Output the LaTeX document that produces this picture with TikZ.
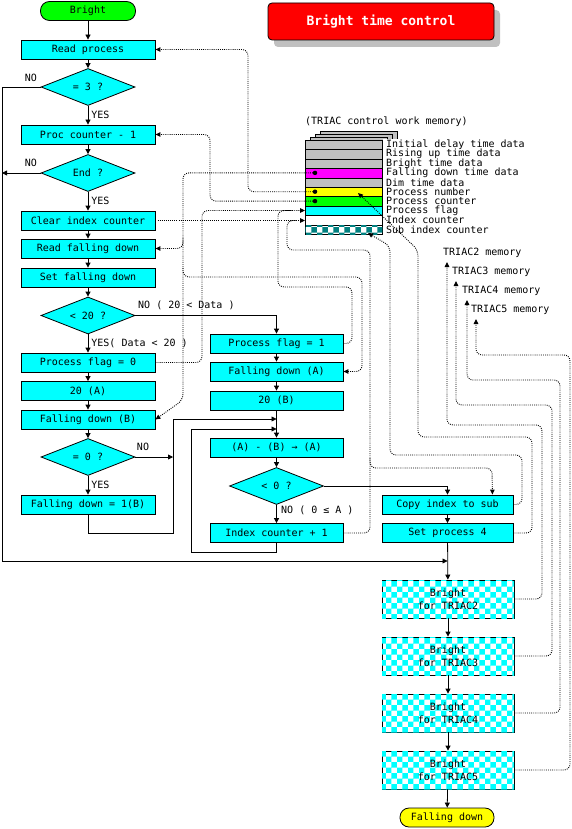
\documentclass[tikz,border=0pt]{standalone}
\usepackage{fontspec}
\setmonofont{DejaVu Sans Mono}
\usetikzlibrary{arrows.meta,shapes.geometric,patterns}
\definecolor{cy}{RGB}{0,255,255}
\definecolor{gr}{RGB}{0,255,0}
\definecolor{yl}{RGB}{255,255,0}
\definecolor{mg}{RGB}{255,0,255}
\definecolor{sg}{RGB}{192,192,192}
\definecolor{tl}{RGB}{0,128,128}
\definecolor{rd}{RGB}{255,0,0}
\begin{document}
\begin{tikzpicture}[x=1pt,y=-1pt,
  font=\ttfamily\fontsize{10}{12}\selectfont,
  box/.style={draw, fill=cy, line width=0.8pt, minimum width=134pt, minimum height=19pt, inner sep=0pt},
  dia/.style={diamond, draw, fill=cy, line width=0.8pt, aspect=2.5, minimum width=94pt, minimum height=37pt, inner sep=0pt},
  term/.style={draw, line width=0.8pt, rounded corners=9pt, minimum width=95pt, minimum height=19pt, inner sep=0pt},
  tribox/.style={draw, line width=0.8pt, fill=white, postaction={pattern=checkerboard, pattern color=cy}, minimum width=132pt, minimum height=38pt, inner sep=0pt, align=center, font=\ttfamily\fontsize{10}{13}\selectfont},
  row/.style={draw, line width=0.8pt, minimum width=77pt, minimum height=9.4pt, inner sep=0pt, anchor=north west},
  lbl/.style={anchor=west, inner sep=0pt},
  memlbl/.style={anchor=west, inner sep=0pt, font=\ttfamily\fontsize{10}{10}\selectfont},
  arr/.style={line width=0.8pt, -{Triangle[length=5pt,width=5pt]}},
  ln/.style={line width=0.8pt},
  mem/.style={line width=0.9pt, dash pattern=on 0.9pt off 1.2pt, rounded corners=6pt},
  marr/.style={mem, -{Triangle[length=5pt,width=4.5pt]}},
  dot/.style={circle, fill=black, inner sep=0pt, minimum size=4.5pt}
]
\useasboundingbox (0,0) rectangle (572,829);

% title
\fill[sg, rounded corners=4pt] (274,10) rectangle (500,47);
\node[draw, line width=0.8pt, fill=rd, rounded corners=4pt, minimum width=226pt, minimum height=37pt, text=white, font=\ttfamily\bfseries\fontsize{13}{15}\selectfont] (title) at (381,21.5) {Bright time control};

% left column
\node[term, fill=gr] (start) at (88,11) {Bright};
\node[box] (rp) at (88,49.5) {Read process};
\node[dia] (d3) at (88,87) {= 3 ?};
\node[box] (pc) at (88,134.5) {Proc counter - 1};
\node[dia] (dend) at (88,173) {End ?};
\node[box] (cic) at (88,220.5) {Clear index counter};
\node[box] (rfd) at (88,248.5) {Read falling down};
\node[box] (sfd) at (88,277.5) {Set falling down};
\node[dia] (d20) at (88,315.5) {< 20 ?};
\node[box] (pf0) at (88,362.5) {Process flag = 0};
\node[box] (a20) at (88,391) {20 (A)};
\node[box] (fdb) at (88,419.5) {Falling down (B)};
\node[dia] (d0) at (88,457) {= 0 ?};
\node[box] (fd1) at (88,504.5) {Falling down = 1(B)};

% middle column
\node[box, minimum width=133pt] (pf1) at (276.5,343.5) {Process flag = 1};
\node[box, minimum width=133pt] (fda) at (276.5,371.5) {Falling down (A)};
\node[box, minimum width=133pt] (b20) at (276.5,400.5) {20 (B)};
\node[box, minimum width=133pt] (ab) at (276.5,447.5) {(A) - (B) → (A)};
\node[dia] (dl0) at (276.5,486) {< 0 ?};
\node[box, minimum width=133pt] (ic1) at (276.5,533) {Index counter + 1};

% right column
\node[box, minimum width=131pt] (cis) at (447.5,504.5) {Copy index to sub};
\node[box, minimum width=131pt] (sp4) at (447.5,533) {Set process 4};
\node[tribox] (t2) at (448,599) {Bright\\for TRIAC2};
\node[tribox] (t3) at (448,656) {Bright\\for TRIAC3};
\node[tribox] (t4) at (448,713) {Bright\\for TRIAC4};
\node[tribox] (t5) at (448,770) {Bright\\for TRIAC5};
\node[term, fill=yl, minimum width=94pt] (fin) at (447,817.5) {Falling down};

% memory block
\node[anchor=west, inner sep=0pt] (memtitle) at (305,122) {(TRIAC control work memory)};
\foreach \k in {3,2,1} {
  \draw[ln, fill=sg] (305+5*\k,140-2.7*\k) rectangle (382+5*\k,234-2.7*\k);
}
\fill[white] (383,139) rectangle (530,237);
\node[row, fill=sg] (m1) at (305,140) {};
\node[row, fill=sg] (m2) at (305,149.4) {};
\node[row, fill=sg] (m3) at (305,158.8) {};
\node[row, fill=mg] (m4) at (305,168.2) {};
\node[row, fill=sg] (m5) at (305,177.6) {};
\node[row, fill=yl] (m6) at (305,187) {};
\node[row, fill=gr] (m7) at (305,196.4) {};
\node[row, fill=cy] (m8) at (305,205.8) {};
\node[row, fill=white] (m9) at (305,215.2) {};
\node[row, fill=white, postaction={pattern=checkerboard, pattern color=tl}] (m10) at (305,224.6) {};
\node[memlbl] (l1) at (386,144.7) {Initial delay time data};
\node[memlbl] (l2) at (386,154.1) {Rising up time data};
\node[memlbl] (l3) at (386,163.5) {Bright time data};
\node[memlbl] (l4) at (386,172.9) {Falling down time data};
\node[memlbl] (l5) at (386,182.3) {Dim time data};
\node[memlbl] (l6) at (386,191.7) {Process number};
\node[memlbl] (l7) at (386,201.1) {Process counter};
\node[memlbl] (l8) at (386,210.5) {Process flag};
\node[memlbl] (l9) at (386,219.9) {Index counter};
\node[memlbl] (l10) at (386,229.3) {Sub index counter};

% TRIAC memory labels
\node[lbl] (tm2) at (443,253) {TRIAC2 memory};
\node[lbl] (tm3) at (452,272) {TRIAC3 memory};
\node[lbl] (tm4) at (462,291) {TRIAC4 memory};
\node[lbl] (tm5) at (471,310) {TRIAC5 memory};
\coordinate (tm2in) at (447,262);
\coordinate (tm3in) at (456,281);
\coordinate (tm4in) at (467,300);
\coordinate (tm5in) at (476,319);

% memory access points
\coordinate (mM) at (315,172.9);
\coordinate (mY) at (315,191.7);
\coordinate (mG) at (315,201.1);
\coordinate (mC) at (305,210.5);
\coordinate (mW) at (305,220.5);
\coordinate (mP) at (358,193);
\coordinate (mS) at (368,233);

% solid flow
\draw[arr] (start) -- (rp);
\draw[arr] (rp) -- (d3);
\draw[arr] (d3) -- node[right, inner sep=3pt] {YES} (pc);
\draw[arr] (pc) -- (dend);
\draw[arr] (dend) -- node[right, inner sep=3pt] {YES} (cic);
\draw[arr] (cic) -- (rfd);
\draw[arr] (rfd) -- (sfd);
\draw[arr] (sfd) -- (d20);
\draw[arr] (d20) -- node[right, inner sep=3pt] {YES( Data < 20 )} (pf0);
\draw[arr] (pf0) -- (a20);
\draw[arr] (a20) -- (fdb);
\draw[arr] (fdb) -- (d0);
\draw[arr] (d0) -- node[right, inner sep=3pt] {YES} (fd1);

\coordinate (j561) at (447.5,561);
\coordinate (j419) at (276.5,419);
\coordinate (j429) at (276.5,429);
\coordinate (j457) at (173,457);
\coordinate (j173) at (2,173);

\draw[arr] (d3.west) -- (2,87) -- (2,561) -- (j561);
\node (no1) at (31,78) {NO};
\draw[arr] (dend.west) -- (j173);
\node (no2) at (31,163) {NO};
\draw[arr] (d20.east) -- (276.5,315.5) -- (pf1.north);
\node[lbl] (no3) at (138,305) {NO ( 20 < Data )};
\draw[arr] (d0.east) -- (j457);
\node (no4) at (143,447) {NO};
\draw[arr] (fd1.south) -- (88,533) -- (173,533) -- (173,419) -- (j419);
\draw[arr] (ic1.south) -- (276.5,552) -- (191,552) -- (191,429) -- (j429);

\draw[arr] (pf1) -- (fda);
\draw[arr] (fda) -- (b20);
\draw[arr] (b20) -- (ab);
\draw[arr] (ab) -- (dl0);
\draw[arr] (dl0) -- (ic1);
\node[lbl] (no5) at (281,510) {NO ( 0 ≤ A )};
\draw[arr] (dl0.east) -- (447.5,486) -- (cis.north);
\draw[arr] (cis) -- (sp4);
\draw[arr] (sp4) -- (t2);
\draw[arr] (t2) -- (t3);
\draw[arr] (t3) -- (t4);
\draw[arr] (t4) -- (t5);
\draw[arr] (t5) -- (fin);

% dotted data lines
\draw[marr] (mY) -- (248,191.7) -- (248,49.5) -- (rp.east);
\draw[marr] (mG) -- (210,201.1) -- (210,134.5) -- (pc.east);
\draw[marr] (mM) -- (183,172.9) -- (183,400) -- (fdb.east);
\draw[marr] (183,238) -- (183,248.5) -- (rfd.east);
\draw[marr] (183,268) -- (183,277) -- (362,277) -- (362,371.5) -- (fda.east);
\draw[marr] (pf0.east) -- (202,362.5) -- (202,210.5) -- (mC);
\draw[mem] (pf1.east) -- (352,343.5) -- (352,287) -- (278,287) -- (278,210.5) -- (292,210.5);
\draw[marr] (cic.east) -- (mW);
\draw[mem] (ic1.east) -- (370,533) -- (370,250) -- (287,250) -- (287,220.5) -- (296,220.5);
\draw[marr] (370,458) -- (370,468) -- (492,468) -- ([xshift=-21pt]cis.north east);
\draw[marr] (cis.east) -- (522,504.5) -- (522,455) -- (390,455) -- (390,246) -- (mS);
\draw[marr] (sp4.east) -- (532,533) -- (532,437) -- (418,437) -- (418,250) -- (mP);
\draw[marr] (t2.east) -- (542,599) -- (542,425) -- (447,425) -- (tm2in);
\draw[marr] (t3.east) -- (552,656) -- (552,405) -- (456,405) -- (tm3in);
\draw[marr] (t4.east) -- (560,713) -- (560,380) -- (467,380) -- (tm4in);
\draw[marr] (t5.east) -- (570,770) -- (570,355) -- (476,355) -- (tm5in);
\node[dot] at (mM) {};
\node[dot] at (mY) {};
\node[dot] at (mG) {};
\end{tikzpicture}
\end{document}
